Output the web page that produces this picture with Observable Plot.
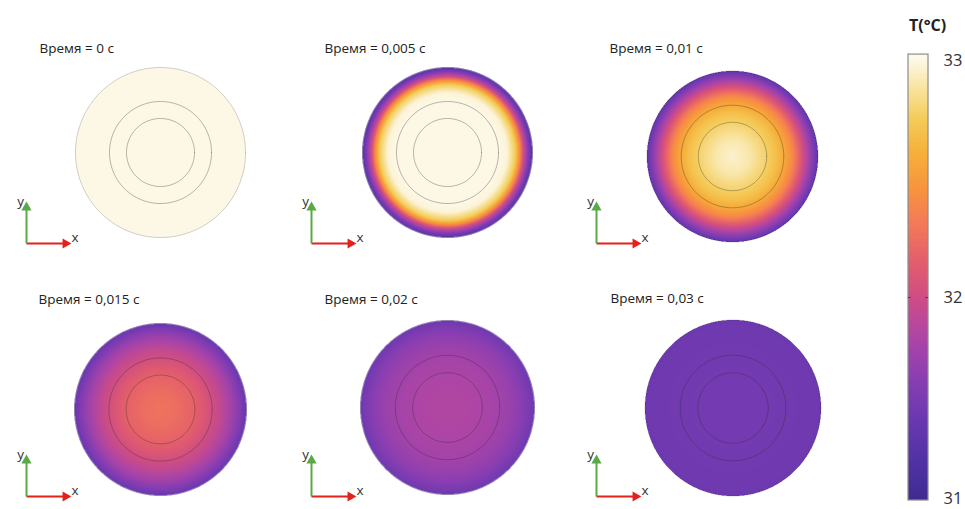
<!DOCTYPE html>
<html><head><meta charset="utf-8">
<script src="https://cdn.jsdelivr.net/npm/d3@7"></script>
<script src="https://cdn.jsdelivr.net/npm/@observablehq/plot@0.6"></script>
<style>
html,body{margin:0;padding:0;background:#fff;}
#root{position:relative;width:965px;height:509px;overflow:hidden;font-family:"Open Sans",sans-serif;}
#root svg{position:absolute;left:0;top:0;overflow:visible;}
#ltitle{position:absolute;left:909px;top:14px;font:bold 16px "Open Sans",sans-serif;color:#222;white-space:nowrap;}
</style></head><body><div id="root"><div id="ltitle"></div></div>
<script>
// ---- data ----
const timeLabels = ["0", "0,005", "0,01", "0,015", "0,02", "0,03"];
const radii = [0, 0.2, 0.4, 0.5, 0.6, 0.7, 0.8, 0.85, 0.9, 0.95, 1.0];
const T_t0    = [33, 33, 33, 33, 33, 33, 33, 33, 33, 33, 33];
const T_t005  = [33, 33, 33, 33, 33, 32.98, 32.75, 32.42, 31.95, 31.55, 31.25];
const T_t010  = [32.96, 32.9, 32.78, 32.7, 32.58, 32.4, 32.1, 31.92, 31.72, 31.52, 31.33];
const T_t015  = [32.27, 32.24, 32.17, 32.1, 32.02, 31.92, 31.78, 31.7, 31.6, 31.5, 31.38];
const T_t020  = [31.83, 31.82, 31.79, 31.77, 31.74, 31.7, 31.64, 31.6, 31.55, 31.49, 31.42];
const T_t030  = [31.46, 31.46, 31.46, 31.45, 31.45, 31.45, 31.44, 31.44, 31.43, 31.43, 31.42];
const profiles = [T_t0, T_t005, T_t010, T_t015, T_t020, T_t030];
const boundaryRadii = [0.4, 0.6, 1.0];
const colorStops = [31, 31.2, 31.4, 31.6, 31.8, 32, 32.15, 32.3, 32.45, 32.6, 32.75, 32.87, 33, 33.025];
const colorHex = ["#3f2c90", "#5232a6", "#6a38b0", "#8a3eb2", "#ad45a6", "#cf4d84", "#e35e6c", "#f2785a", "#f8923f", "#f6ae3a", "#f4cb58", "#f8e29a", "#fdf8e6", "#fffbea"];
const colorTicks = [31, 32, 33];
const barRange = [31, 33.025];
const legendTitle = "T(°C)";
const triadAxes = [
  {label: "x", dx: 1, dy: 0, len: 39, color: "#e3211b"},
  {label: "y", dx: 0, dy: 1, len: 36, color: "#5aa846"}
];

// ---- layout (pixels) ----
const W = 965, H = 509;
const panelCenters = [[160,152],[447,152],[732,156],[160,409],[447,407],[732.5,407.5]];
const panelRadius = [85, 85, 85.5, 86, 87, 88];
const triadOrigins = [[26,243],[311,243],[596,243],[26,496],[311,496],[596,496]];
const titlePos = [[39,53],[324,53],[609,53],[38,304],[324,304],[610,303]];
const barTickPx = [500, 297, 60]; // pixel rows of the colour-bar ticks 31, 32, 33

const colorOpts = {type: "linear", domain: colorStops, range: colorHex, clamp: true};
const root = document.getElementById("root");
document.getElementById("ltitle").textContent = legendTitle;

function panel(i) {
  const [cx, cy] = panelCenters[i], R = panelRadius[i];
  const prof = d3.scaleLinear(radii, profiles[i]).clamp(true);
  const inside = (x, y) => Math.hypot(x, y) <= 1;
  const field = (x, y) => inside(x, y) ? prof(Math.hypot(x, y)) : NaN;
  const rings = boundaryRadii.flatMap(rb => d3.range(0, 361, 2).map(a => ({rb, x: rb*Math.cos(a*Math.PI/180), y: rb*Math.sin(a*Math.PI/180)})));
  const [tx, ty] = triadOrigins[i];
  const ox = (tx - cx)/R, oy = (cy - ty)/R;
  const [px, py] = titlePos[i];
  const marks = [
    Plot.raster({fill: field, fillOpacity: (x, y) => inside(x, y) ? 1 : 0, x1: -1, x2: 1, y1: -1, y2: 1, pixelSize: 0.5}),
    Plot.line(rings, {x: "x", y: "y", z: "rb", stroke: "#2a2a2a", strokeOpacity: d => d.rb === 1 ? 0.28 : 0.42, strokeWidth: 0.8})
  ];
  for (const a of triadAxes) {
    const tip = {x: ox + a.dx*a.len/R, y: oy + a.dy*a.len/R};
    marks.push(Plot.link([a], {x1: ox, y1: oy, x2: tip.x, y2: tip.y, stroke: a.color, strokeWidth: 2}));
    marks.push(Plot.dot([tip], {x: "x", y: "y", symbol: "triangle", r: 3.8, fill: a.color, rotate: a.dx ? 90 : 0}));
    marks.push(Plot.text([tip], {x: "x", y: "y", text: () => a.label, fill: "#333", fontSize: 13.5,
      dx: a.dx ? 6 : -6, dy: -6, textAnchor: a.dx ? "start" : "middle"}));
  }
  marks.push(Plot.text(["Время = " + timeLabels[i] + " с"], {x: (px - cx)/R, y: (cy - (py - 4.4))/R,
    text: d => d, textAnchor: "start", fill: "#222", fontSize: 13.5}));
  const svg = Plot.plot({
    width: W, height: H,
    x: {domain: [-1, 1], range: [cx - R, cx + R], axis: null},
    y: {domain: [-1, 1], range: [cy + R, cy - R], axis: null},
    color: colorOpts,
    style: {background: "transparent", fontFamily: "Open Sans", overflow: "visible"},
    marks
  });
  root.appendChild(svg);
}
for (let i = 0; i < 6; ++i) panel(i);

// colour bar: the bar's value axis is piecewise (as in the source), via a scale transform
const barPos = d3.scaleLinear(colorTicks, barTickPx);
const barBins = d3.range(barRange[0], barRange[1], 0.005);
const innerTicks = colorTicks.filter(t => t > 31 && t < 33);
const bar = Plot.plot({
  width: W, height: H,
  x: {domain: [0, 1], range: [908, 928], axis: null},
  y: {transform: v => barPos(v), domain: [0, H], range: [0, H], axis: null},
  color: colorOpts,
  style: {background: "transparent", fontFamily: "Open Sans", overflow: "visible"},
  marks: [
    Plot.rect(barBins, {x1: 0, x2: 1, y1: d => d, y2: d => Math.min(d + 0.0075, barRange[1]), fill: d => d + 0.0025, shapeRendering: "crispEdges"}),
    Plot.rect([barRange], {x1: 0, x2: 1, y1: d => d[0], y2: d => d[1], fill: "none", stroke: "#8c8c8c", strokeWidth: 1.2}),
    Plot.ruleY(innerTicks, {x1: 0, x2: 0.14, stroke: "#444", strokeWidth: 1}),
    Plot.ruleY(innerTicks, {x1: 0.86, x2: 1, stroke: "#444", strokeWidth: 1}),
    Plot.text(colorTicks.filter(t => t > 31), {x: 1, y: d => d, text: d => String(d), dx: 15, textAnchor: "start", fontSize: 16.5, fill: "#333"}),
    Plot.text(colorTicks.filter(t => t === 31), {x: 1, y: d => d, text: d => String(d), dx: 15, dy: -2, textAnchor: "start", fontSize: 16.5, fill: "#333"})
  ]
});
root.appendChild(bar);
</script>
</body></html>
